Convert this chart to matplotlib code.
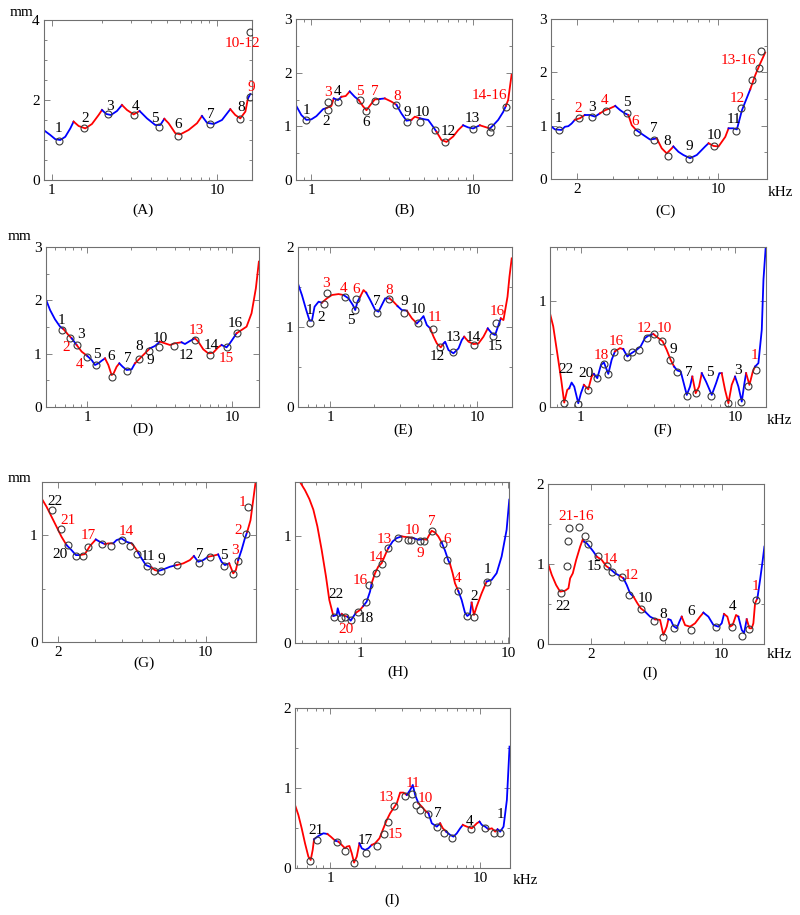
import matplotlib
matplotlib.use("Agg")
import matplotlib.pyplot as plt
from matplotlib.ticker import FixedLocator, MultipleLocator, LogLocator, NullFormatter

plt.rcParams["font.family"] = ["Liberation Serif", "DejaVu Serif"]

W, H = 800, 915
COL = {"r": "#ff0000", "b": "#0000ff", "k": "#000000"}

##### data (frequency in kHz, displacement in mm) #####

# --- (A) ---
A_segs = [
	("b", [0.903, 0.977, 1.048, 1.123, 1.204, 1.292, 1.353], [1.23, 1.125, 1.02, 1.0, 1.08, 1.29, 1.46]),
	("r", [1.353, 1.451, 1.592, 1.747, 1.918, 2.01], [1.46, 1.35, 1.29, 1.40, 1.625, 1.75]),
	("b", [2.01, 2.134, 2.278, 2.477, 2.656], [1.75, 1.65, 1.625, 1.725, 1.875]),
	("r", [2.656, 2.849, 3.126, 3.398], [1.875, 1.75, 1.64, 1.725]),
	("b", [3.398, 3.767, 4.228, 4.534, 4.797], [1.725, 1.54, 1.375, 1.375, 1.53]),
	("r", [4.797, 5.09, 5.59, 5.99, 6.73, 7.57, 8.11], [1.53, 1.42, 1.17, 1.14, 1.25, 1.42, 1.6]),
	("b", [8.11, 8.70, 9.55, 10.72, 12.04], [1.6, 1.43, 1.40, 1.5, 1.77]),
	("r", [12.04, 12.91, 13.84, 14.86, 15.41], [1.77, 1.625, 1.54, 1.71, 2.04]),
	("b", [15.41, 15.92], [2.04, 2.15]),
]
A_mk_f = [1.10, 1.56, 2.2, 3.13, 4.43, 5.78, 9.03, 13.8, 15.9, 15.9]
A_mk_v = [0.98, 1.30, 1.64, 1.625, 1.325, 1.10, 1.40, 1.53, 2.08, 3.71]
A_labels = [("1", 1.10, 1.29, "k"), ("2", 1.59, 1.54, "k"), ("3", 2.26, 1.85, "k"), ("4", 3.2, 1.85, "k"),
	("5", 4.23, 1.54, "k"), ("6", 5.86, 1.40, "k"), ("7", 9.2, 1.625, "k"), ("8", 13.97, 1.82, "k"),
	("9", 16.07, 2.32, "r"), ("10-12", 14.2, 3.42, "r")]

# --- (B) ---
B_segs = [
	("b", [0.80, 0.867, 0.931, 1.0, 1.074, 1.181, 1.238], [1.40, 1.21, 1.12, 1.13, 1.19, 1.32, 1.34]),
	("r", [1.238, 1.329, 1.374], [1.34, 1.38, 1.52]),
	("b", [1.374, 1.462, 1.533], [1.52, 1.49, 1.55]),
	("r", [1.533, 1.63, 1.726], [1.55, 1.565, 1.65]),
	("b", [1.726, 1.854, 1.962], [1.65, 1.55, 1.49]),
	("r", [1.962, 2.089, 2.19, 2.317, 2.464, 2.648], [1.49, 1.37, 1.30, 1.40, 1.50, 1.51]),
	("b", [2.648, 2.842], [1.51, 1.52]),
	("r", [2.842, 3.126, 3.356], [1.52, 1.46, 1.40]),
	("b", [3.356, 3.6, 3.87, 4.15], [1.40, 1.24, 1.105, 1.12]),
	("r", [4.15, 4.36, 4.68], [1.12, 1.18, 1.15]),
	("b", [4.68, 5.02, 5.27, 5.66, 5.93], [1.15, 1.13, 1.12, 0.99, 0.90]),
	("r", [5.93, 6.37, 6.84, 7.52, 8.08, 8.67], [0.90, 0.745, 0.71, 0.81, 0.93, 1.02]),
	("b", [8.67, 9.31, 10.0, 10.99], [1.02, 0.98, 0.96, 1.02]),
	("r", [10.99, 11.8, 12.68], [1.02, 0.99, 0.96]),
	("b", [12.68, 13.3, 14.28, 15.34, 15.92], [0.96, 1.02, 1.12, 1.27, 1.38]),
	("r", [15.92, 16.45, 17.27], [1.38, 1.49, 1.96]),
]
B_mk_f = [0.931, 1.268, 1.268, 1.462, 1.99, 2.19, 2.464, 3.356, 3.92, 4.68, 5.79, 6.74, 10.0, 12.68, 12.9, 15.85]
B_mk_v = [1.12, 1.30, 1.46, 1.45, 1.49, 1.285, 1.47, 1.40, 1.075, 1.075, 0.93, 0.714, 0.95, 0.90, 0.98, 1.355]
B_labels = [("1", 0.931, 1.30, "k"), ("2", 1.238, 1.09, "k"), ("3", 1.268, 1.63, "r"), ("4", 1.448, 1.65, "k"),
	("5", 1.99, 1.65, "r"), ("6", 2.19, 1.07, "k"), ("7", 2.46, 1.65, "r"), ("8", 3.39, 1.55, "r"),
	("9", 3.92, 1.255, "k"), ("10", 4.86, 1.255, "k"), ("12", 7.0, 0.90, "k"), ("13", 9.86, 1.15, "k"),
	("14-16", 12.7, 1.58, "r")]

# --- (C) ---
C_segs = [
	("b", [1.479, 1.549, 1.671, 1.737, 1.804, 1.874, 1.946], [0.99, 0.93, 0.92, 0.98, 0.99, 1.04, 1.11]),
	("r", [1.946, 2.062, 2.18], [1.11, 1.14, 1.2]),
	("b", [2.18, 2.31, 2.45, 2.59], [1.2, 1.2, 1.17, 1.23]),
	("r", [2.59, 2.75, 2.91, 3.09], [1.23, 1.29, 1.325, 1.37]),
	("b", [3.09, 3.27, 3.45, 3.59], [1.37, 1.29, 1.23, 1.2]),
	("r", [3.59, 3.73, 3.92], [1.2, 1.01, 0.92]),
	("b", [3.92, 4.26, 4.60, 4.97], [0.92, 0.825, 0.74, 0.76]),
	("r", [4.97, 5.26, 5.57, 5.90, 6.01], [0.76, 0.575, 0.48, 0.575, 0.61]),
	("b", [6.01, 6.37, 6.74, 7.28, 7.86, 8.65, 8.99], [0.61, 0.51, 0.45, 0.39, 0.45, 0.61, 0.67]),
	("r", [8.99, 9.52, 10.08, 10.89, 11.31], [0.67, 0.62, 0.61, 0.79, 0.95]),
	("b", [11.31, 11.97, 12.44, 13.18, 14.49], [0.95, 0.95, 0.93, 1.29, 1.68]),
	("r", [14.49, 15.36, 16.13, 17.2], [1.68, 1.95, 2.14, 2.37]),
]
C_mk_f = [1.626, 2.04, 2.355, 2.77, 3.52, 3.95, 4.84, 5.68, 7.22, 9.52, 12.33, 13.06, 14.75, 15.97, 16.38]
C_mk_v = [0.92, 1.14, 1.17, 1.275, 1.23, 0.89, 0.73, 0.44, 0.375, 0.61, 0.906, 1.34, 1.86, 2.075, 2.40]
C_labels = [("1", 1.62, 1.14, "k"), ("2", 2.02, 1.325, "r"), ("3", 2.355, 1.34, "k"), ("4", 2.73, 1.48, "r"),
	("5", 3.52, 1.43, "k"), ("6", 3.87, 1.075, "r"), ("7", 4.79, 0.95, "k"), ("8", 5.61, 0.70, "k"),
	("9", 7.22, 0.61, "k"), ("10", 9.59, 0.81, "k"), ("11", 11.97, 1.11, "k"), ("12", 12.45, 1.51, "r"),
	("13-16", 12.67, 2.22, "r")]

# --- (D) ---
D_segs = [
	("b", [0.516, 0.553, 0.598, 0.648, 0.683], [2.03, 1.82, 1.645, 1.507, 1.463]),
	("r", [0.683, 0.740, 0.780], [1.463, 1.35, 1.287]),
	("b", [0.780, 0.844], [1.287, 1.161]),
	("r", [0.844, 0.914, 1.0], [1.161, 1.036, 0.954]),
	("b", [1.0, 1.071, 1.129, 1.191, 1.256, 1.324], [0.954, 0.879, 0.785, 0.816, 0.866, 0.910]),
	("r", [1.324, 1.396, 1.471, 1.511, 1.593, 1.662], [0.910, 0.785, 0.596, 0.615, 0.753, 0.816]),
	("b", [1.662, 1.752, 1.867, 2.022, 2.132], [0.816, 0.753, 0.691, 0.703, 0.816]),
	("r", [2.132, 2.307, 2.565, 2.704], [0.816, 0.910, 1.036, 1.099]),
	("b", [2.704, 2.93, 3.17], [1.099, 1.143, 1.224]),
	("r", [3.17, 3.43, 3.72, 4.02, 4.47], [1.224, 1.193, 1.161, 1.193, 1.212]),
	("b", [4.47, 4.72, 5.11, 5.53], [1.212, 1.18, 1.237, 1.287]),
	("r", [5.53, 5.83, 6.31, 6.83, 7.39, 8.0, 8.44], [1.287, 1.224, 1.08, 1.004, 1.016, 1.117, 1.161]),
	("b", [8.44, 9.14, 9.63, 10.16, 10.71], [1.161, 1.117, 1.193, 1.287, 1.381]),
	("r", [10.71, 11.6, 12.56, 13.59, 14.56, 15.27], [1.381, 1.444, 1.507, 1.758, 2.23, 2.73]),
]
D_mk_f = [0.673, 0.760, 0.844, 1.0, 1.14, 1.487, 1.886, 2.283, 2.66, 3.14, 3.96, 5.53, 7.02, 9.14, 10.71]
D_mk_v = [1.444, 1.30, 1.16, 0.94, 0.785, 0.565, 0.672, 0.89, 1.055, 1.13, 1.143, 1.255, 0.973, 1.117, 1.394]
D_labels = [("1", 0.665, 1.62, "k"), ("3", 0.904, 1.35, "k"), ("2", 0.72, 1.117, "r"), ("4", 0.89, 0.785, "r"),
	("5", 1.16, 0.99, "k"), ("6", 1.47, 0.954, "k"), ("7", 1.90, 0.91, "k"), ("8", 2.28, 1.13, "k"),
	("9", 2.70, 0.866, "k"), ("10", 3.2, 1.287, "k"), ("12", 4.84, 0.973, "k"), ("13", 5.61, 1.43, "r"),
	("14", 7.2, 1.161, "k"), ("15", 9.14, 0.91, "r"), ("16", 10.43, 1.557, "k")]

# --- (E) ---
E_segs = [
	("b", [0.602, 0.641, 0.686, 0.723, 0.750, 0.782, 0.833, 0.877], [1.54, 1.396, 1.208, 1.075, 1.075, 1.25, 1.3125, 1.30]),
	("r", [0.877, 0.949, 1.026, 1.140, 1.233], [1.30, 1.354, 1.396, 1.408, 1.396]),
	("b", [1.233, 1.334, 1.427, 1.481, 1.535, 1.601], [1.396, 1.354, 1.271, 1.208, 1.3125, 1.375]),
	("r", [1.601, 1.687, 1.760], [1.375, 1.458, 1.425]),
	("b", [1.760, 1.874, 2.027, 2.136, 2.25, 2.371, 2.538], [1.425, 1.333, 1.208, 1.1875, 1.271, 1.354, 1.354]),
	("r", [2.538, 2.70, 2.878], [1.354, 1.3125, 1.258]),
	("b", [2.878, 3.08, 3.33], [1.258, 1.208, 1.20]),
	("r", [3.33, 3.61, 3.90], [1.20, 1.104, 1.042]),
	("b", [3.90, 4.11, 4.33, 4.56, 4.81], [1.042, 1.083, 1.133, 1.021, 0.979]),
	("r", [4.81, 5.07, 5.34, 5.68, 5.93], [0.979, 0.875, 0.79, 0.742, 0.79]),
	("b", [5.93, 6.08, 6.41, 6.93, 7.50, 7.90, 8.20], [0.79, 0.8125, 0.708, 0.667, 0.729, 0.833, 0.875]),
	("r", [8.20, 8.78, 9.49, 10.26, 11.1, 11.88], [0.875, 0.8125, 0.783, 0.79, 0.875, 0.979]),
	("b", [11.88, 12.65, 13.33, 14.06, 14.58], [0.979, 0.917, 0.896, 1.021, 1.104]),
	("r", [14.58, 15.2, 16.2, 16.7, 17.3], [1.104, 1.083, 1.375, 1.625, 1.854]),
]
E_mk_f = [0.731, 0.90, 0.949, 1.252, 1.481, 1.496, 2.10, 2.50, 3.196, 3.94, 4.99, 5.62, 6.83, 9.59, 12.99, 13.55]
E_mk_v = [1.05, 1.29, 1.417, 1.375, 1.208, 1.346, 1.175, 1.346, 1.175, 1.042, 0.971, 0.75, 0.679, 0.771, 0.883, 1.05]
E_labels = [("1", 0.723, 1.208, "k"), ("2", 0.864, 1.117, "k"), ("3", 0.934, 1.54, "r"), ("4", 1.233, 1.479, "r"),
	("6", 1.496, 1.467, "r"), ("5", 1.383, 1.075, "k"), ("7", 2.08, 1.3125, "k"), ("8", 2.538, 1.45, "r"),
	("9", 3.196, 1.3125, "k"), ("10", 4.0, 1.217, "k"), ("11", 5.2, 1.117, "r"), ("12", 5.39, 0.633, "k"),
	("13", 6.93, 0.867, "k"), ("14", 9.49, 0.867, "k"), ("15", 13.33, 0.75, "k"), ("16", 13.7, 1.1875, "r")]

# --- (F) ---
F_segs = [
	("r", [0.629, 0.661, 0.702, 0.745, 0.779, 0.815, 0.840], [0.884, 0.759, 0.508, 0.257, 0.044, 0.163, 0.179]),
	("b", [0.840, 0.870, 0.905, 0.961, 1.0, 1.046], [0.179, 0.232, 0.194, 0.038, 0.132, 0.21]),
	("r", [1.046, 1.116, 1.173, 1.214], [0.21, 0.169, 0.288, 0.313]),
	("b", [1.214, 1.277, 1.349, 1.411, 1.505, 1.582, 1.663], [0.313, 0.273, 0.398, 0.42, 0.313, 0.445, 0.524]),
	("r", [1.663, 1.792, 1.883], [0.524, 0.555, 0.545]),
	("b", [1.883, 2.0, 2.133, 2.299, 2.44, 2.604, 2.736, 2.95], [0.545, 0.476, 0.508, 0.539, 0.571, 0.649, 0.671, 0.687]),
	("r", [2.95, 3.18, 3.39, 3.60, 3.82, 4.02], [0.687, 0.649, 0.618, 0.539, 0.445, 0.382]),
	("b", [4.02, 4.22, 4.44, 4.86, 5.10, 5.28], [0.382, 0.345, 0.335, 0.116, 0.194, 0.288]),
	("r", [5.28, 5.55, 5.84, 6.08], [0.288, 0.132, 0.194, 0.32]),
	("b", [6.08, 6.48, 7.06, 7.53, 7.91, 8.19], [0.32, 0.241, 0.116, 0.226, 0.32, 0.32]),
	("r", [8.19, 8.61, 9.05, 9.51, 10.0], [0.32, 0.163, 0.038, 0.21, 0.288]),
	("b", [10.0, 10.51, 11.05, 11.5, 11.79], [0.288, 0.194, 0.053, 0.226, 0.32]),
	("r", [11.79, 12.39, 13.02, 13.49], [0.32, 0.21, 0.333, 0.382]),
	("b", [13.49, 14.17, 14.9, 15.28, 15.82], [0.382, 0.414, 0.727, 1.197, 1.511]),
]
F_mk_f = [0.779, 0.961, 1.116, 1.264, 1.411, 1.49, 1.638, 1.98, 2.154, 2.38, 2.67, 2.995, 3.34, 3.78, 4.22,
	4.86, 5.55, 6.99, 9.05, 10.9, 12.21, 13.62]
F_mk_v = [0.038, 0.031, 0.163, 0.273, 0.408, 0.31, 0.517, 0.476, 0.514, 0.533, 0.649, 0.687, 0.618, 0.445, 0.335,
	0.11, 0.138, 0.11, 0.038, 0.053, 0.2, 0.351]
F_labels = [("22", 0.799, 0.357, "k"), ("20", 1.078, 0.313, "k"), ("18", 1.362, 0.483, "r"), ("16", 1.688, 0.618, "r"),
	("12", 2.566, 0.74, "r"), ("10", 3.46, 0.74, "r"), ("9", 3.98, 0.545, "k"), ("7", 4.98, 0.326, "k"),
	("5", 6.88, 0.326, "k"), ("3", 10.51, 0.345, "k"), ("1", 13.28, 0.483, "r")]

# --- (G) ---
G_segs = [
	("r", [1.679, 1.761, 1.86, 1.964, 2.074, 2.191], [1.339, 1.270, 1.176, 1.082, 0.987, 0.909]),
	("b", [2.191, 2.313, 2.426, 2.534], [0.909, 0.862, 0.815, 0.815]),
	("r", [2.534, 2.676, 2.827, 3.017], [0.815, 0.824, 0.90, 0.962]),
	("b", [3.017, 3.153, 3.33], [0.962, 0.940, 0.918]),
	("r", [3.33, 3.453, 3.647], [0.918, 0.925, 0.925]),
	("b", [3.647, 3.783, 3.995, 4.22, 4.457], [0.925, 0.956, 0.972, 0.940, 0.925]),
	("r", [4.457, 4.623, 4.795], [0.925, 0.887, 0.837]),
	("b", [4.795, 4.973, 5.212, 5.545], [0.837, 0.784, 0.721, 0.699]),
	("r", [5.545, 5.751, 5.964], [0.699, 0.674, 0.665]),
	("b", [5.964, 6.30, 6.77, 7.29], [0.665, 0.680, 0.705, 0.721]),
	("r", [7.29, 7.84, 8.43, 8.81], [0.721, 0.737, 0.768, 0.806]),
	("b", [8.81, 9.23, 9.75, 10.30], [0.806, 0.752, 0.768, 0.80]),
	("r", [10.30, 10.88, 11.48], [0.80, 0.809, 0.821]),
	("b", [11.48, 11.91, 12.36, 12.95], [0.821, 0.752, 0.721, 0.737]),
	("r", [12.95, 13.53, 13.93, 14.29], [0.737, 0.643, 0.674, 0.768]),
	("b", [14.29, 14.82, 15.37, 15.77], [0.768, 0.862, 0.972, 1.034]),
	("r", [15.77, 16.35, 16.83, 17.27], [1.034, 1.144, 1.332, 1.498]),
]
G_mk_f = [1.873, 2.06, 2.23, 2.426, 2.61, 2.776, 3.21, 3.58, 3.995, 4.37, 4.71, 5.25, 5.69, 6.14, 7.34,
	9.31, 10.49, 12.22, 13.53, 14.29, 15.54, 15.94]
G_mk_v = [1.238, 1.06, 0.909, 0.806, 0.809, 0.887, 0.918, 0.903, 0.956, 0.90, 0.824, 0.712, 0.668, 0.665, 0.721,
	0.743, 0.793, 0.712, 0.636, 0.762, 1.013, 1.263]
G_labels = [("22", 1.929, 1.317, "k"), ("21", 2.23, 1.144, "r"), ("20", 2.037, 0.824, "k"), ("17", 2.776, 1.003, "r"),
	("14", 4.22, 1.034, "r"), ("11", 5.31, 0.80, "k"), ("9", 6.18, 0.774, "k"), ("7", 9.40, 0.824, "k"),
	("5", 12.22, 0.815, "k"), ("3", 13.78, 0.862, "r"), ("2", 14.29, 1.05, "r"), ("1", 14.98, 1.307, "r")]

# --- (H) ---
H_segs = [
	("r", [0.388, 0.42, 0.449, 0.478, 0.509, 0.544, 0.582, 0.613, 0.653], [1.503, 1.425, 1.344, 1.244, 1.0875, 0.869, 0.619, 0.40, 0.25]),
	("b", [0.653, 0.688, 0.699, 0.724, 0.744], [0.25, 0.259, 0.322, 0.25, 0.269]),
	("r", [0.744, 0.783, 0.812], [0.269, 0.25, 0.244]),
	("b", [0.812, 0.856, 0.892, 0.93], [0.244, 0.206, 0.244, 0.281]),
	("r", [0.93, 0.99, 1.043], [0.281, 0.306, 0.344]),
	("b", [1.043, 1.098, 1.157, 1.187], [0.344, 0.384, 0.478, 0.556]),
	("r", [1.187, 1.251, 1.317, 1.388, 1.484, 1.539], [0.556, 0.65, 0.7125, 0.744, 0.8375, 0.884]),
	("b", [1.539, 1.647, 1.753, 1.895], [0.884, 0.947, 0.978, 0.994]),
	("r", [1.895, 2.049, 2.274], [0.994, 0.9875, 0.978]),
	("b", [2.274, 2.458, 2.657], [0.978, 0.9625, 0.969]),
	("r", [2.657, 2.799, 2.917, 3.025, 3.188, 3.357, 3.537], [0.969, 0.9625, 1.009, 1.047, 1.031, 0.994, 0.9375]),
	("b", [3.537, 3.725, 3.925, 4.027], [0.9375, 0.8625, 0.769, 0.7375]),
	("r", [4.027, 4.198, 4.354, 4.586], [0.7375, 0.65, 0.556, 0.484]),
	("b", [4.586, 4.83, 5.088, 5.277, 5.502, 5.646], [0.484, 0.4, 0.281, 0.25, 0.269, 0.375]),
	("r", [5.646, 5.855, 6.104, 6.6, 7.135], [0.375, 0.259, 0.338, 0.4625, 0.572]),
	("b", [7.135, 7.712, 8.337, 9.014, 9.743, 10.16], [0.572, 0.5875, 0.65, 0.806, 1.056, 1.3375]),
]
H_mk_f = [0.659, 0.736, 0.783, 0.856, 0.954, 1.087, 1.145, 1.27, 1.388, 1.523, 1.8, 2.103, 2.181, 2.522, 2.699,
	3.025, 3.592, 3.863, 4.54, 5.223, 5.855, 7.21]
H_mk_v = [0.244, 0.228, 0.244, 0.2125, 0.284, 0.384, 0.541, 0.65, 0.7375, 0.884, 0.978, 0.9625, 0.956, 0.947, 0.947,
	1.041, 0.925, 0.769, 0.484, 0.25, 0.2375, 0.572]
H_labels = [("22", 0.681, 0.447, "k"), ("20", 0.796, 0.125, "r"), ("18", 1.098, 0.228, "k"), ("16", 1.0, 0.581, "r"),
	("14", 1.27, 0.80, "r"), ("13", 1.439, 0.9625, "r"), ("10", 2.25, 1.05, "r"), ("9", 2.549, 0.831, "r"),
	("7", 3.025, 1.134, "r"), ("6", 3.863, 0.969, "r"), ("4", 4.515, 0.603, "r"), ("2", 5.886, 0.431, "k"),
	("1", 7.21, 0.681, "k")]

# --- (I), right column ---
I1_segs = [
	("r", [1.183, 1.232, 1.299, 1.365, 1.452, 1.512, 1.544, 1.596, 1.663, 1.747, 1.805, 1.835],
		[0.99, 0.865, 0.74, 0.657, 0.669, 0.699, 0.823, 0.886, 1.052, 1.218, 1.31, 1.281]),
	("b", [1.835, 1.896, 1.975, 2.058, 2.145], [1.281, 1.26, 1.21, 1.156, 1.094]),
	("r", [2.145, 2.281, 2.406, 2.507], [1.094, 1.052, 0.977, 0.948]),
	("b", [2.507, 2.689, 2.858], [0.948, 0.886, 0.852]),
	("r", [2.858, 2.979], [0.852, 0.823]),
	("b", [2.979, 3.103, 3.233, 3.37], [0.823, 0.74, 0.636, 0.595]),
	("r", [3.37, 3.539, 3.688, 3.89], [0.595, 0.511, 0.449, 0.407]),
	("b", [3.89, 4.137, 4.399], [0.407, 0.345, 0.312]),
	("r", [4.399, 4.679, 4.875, 5.079, 5.185], [0.312, 0.304, 0.116, 0.22, 0.312]),
	("b", [5.185, 5.336, 5.515, 5.745, 5.937, 6.11], [0.312, 0.304, 0.229, 0.20, 0.283, 0.345]),
	("r", [6.11, 6.367, 6.77, 7.2, 7.656, 7.98], [0.345, 0.239, 0.22, 0.262, 0.345, 0.395]),
	("b", [7.98, 8.487, 9.028, 9.6, 10.0, 10.29], [0.395, 0.345, 0.241, 0.22, 0.262, 0.378]),
	("r", [10.29, 10.72, 11.08, 11.45, 11.93, 12.28], [0.378, 0.345, 0.22, 0.241, 0.366, 0.345]),
	("b", [12.28, 12.8, 13.17, 13.61], [0.345, 0.179, 0.137, 0.312]),
	("r", [13.61, 14.07, 14.47, 14.77, 15.08, 15.52], [0.312, 0.20, 0.20, 0.262, 0.511, 0.574]),
	("b", [15.52, 16.04, 16.58, 16.92], [0.574, 0.802, 1.052, 1.218]),
]
I1_mk_f = [1.376, 1.494, 1.512, 1.531, 1.732, 1.857, 1.936, 2.171, 2.426, 2.58, 2.919, 3.194, 3.688, 4.345, 4.875,
	5.559, 6.855, 9.326, 11.31, 12.8, 14.0, 15.2]
I1_mk_v = [0.645, 0.977, 1.293, 1.455, 1.468, 1.351, 1.252, 1.102, 0.977, 0.906, 0.844, 0.615, 0.441, 0.295, 0.096,
	0.20, 0.179, 0.22, 0.212, 0.108, 0.187, 0.553]
I1_labels = [("21-16", 1.663, 1.593, "r"), ("22", 1.411, 0.47, "k"), ("15", 2.075, 0.969, "k"), ("14", 2.548, 1.064, "r"),
	("12", 3.30, 0.857, "r"), ("10", 3.89, 0.574, "k"), ("8", 4.834, 0.366, "k"), ("6", 6.83, 0.407, "k"),
	("4", 11.4, 0.47, "k"), ("1", 15.08, 0.72, "r")]

# --- (I), bottom ---
I2_segs = [
	("r", [0.584, 0.615, 0.647, 0.681, 0.717, 0.743, 0.766, 0.782], [0.792, 0.667, 0.5, 0.3125, 0.146, 0.104, 0.229, 0.3625]),
	("b", [0.782, 0.836, 0.903, 0.96], [0.3625, 0.404, 0.4375, 0.429]),
	("r", [0.96, 1.01, 1.08], [0.429, 0.396, 0.346]),
	("b", [1.08, 1.137], [0.346, 0.333]),
	("r", [1.137, 1.196, 1.259, 1.292, 1.346, 1.395, 1.445, 1.506, 1.569], [0.333, 0.292, 0.25, 0.271, 0.279, 0.1875, 0.071, 0.146, 0.3125]),
	("b", [1.569, 1.626, 1.711, 1.801, 1.896], [0.3125, 0.25, 0.229, 0.25, 0.292]),
	("r", [1.896, 1.995, 2.133, 2.244, 2.387, 2.512, 2.643, 2.783, 2.929, 3.083, 3.245],
		[0.292, 0.3125, 0.375, 0.479, 0.604, 0.6875, 0.75, 0.8125, 0.946, 0.946, 0.917]),
	("b", [3.245, 3.415, 3.557, 3.687, 3.88], [0.917, 0.979, 1.042, 0.917, 0.8125]),
	("r", [3.88, 4.084, 4.299, 4.524], [0.8125, 0.771, 0.721, 0.6875]),
	("b", [4.524, 4.762, 5.142, 5.412], [0.6875, 0.5625, 0.521, 0.5625]),
	("r", [5.412, 5.639, 5.935], [0.5625, 0.5, 0.458]),
	("b", [5.935, 6.31, 6.64, 6.99, 7.356, 7.663], [0.458, 0.417, 0.396, 0.4375, 0.5, 0.542]),
	("r", [7.663, 8.149, 8.799, 9.502, 9.9], [0.542, 0.521, 0.5, 0.5625, 0.583]),
	("b", [9.9, 10.26, 10.8, 11.36], [0.583, 0.542, 0.521, 0.4875]),
	("r", [11.36, 11.96, 12.59, 13.05], [0.4875, 0.5, 0.458, 0.4875]),
	("b", [13.05, 13.6, 14.31, 15.06, 15.69], [0.4875, 0.458, 0.521, 0.854, 1.521]),
]
I2_mk_f = [0.736, 0.823, 1.108, 1.259, 1.445, 1.738, 2.068, 2.291, 2.448, 2.672, 3.162, 3.539, 3.744, 3.981, 4.524,
	5.196, 5.754, 6.54, 8.665, 10.8, 12.27, 13.46]
I2_mk_v = [0.092, 0.354, 0.333, 0.221, 0.071, 0.1875, 0.279, 0.429, 0.583, 0.779, 0.904, 0.929, 0.792, 0.729, 0.675,
	0.521, 0.4375, 0.383, 0.4875, 0.508, 0.4375, 0.4375]
I2_labels = [("21", 0.807, 0.471, "k"), ("17", 1.711, 0.342, "k"), ("13", 2.362, 0.8875, "r"), ("15", 2.713, 0.417, "r"),
	("11", 3.594, 1.0625, "r"), ("10", 4.299, 0.875, "r"), ("7", 5.196, 0.6875, "k"), ("4", 8.447, 0.583, "k"),
	("1", 13.73, 0.667, "k")]

##### layout (pixel boxes left, top, right, bottom) #####

PANELS = [
	dict(box=(44, 20, 252, 180), xlim=(0.895, 16.3), ylim=(0, 4), xt=[1, 10], yt=[0, 2, 4], cap="(A)", cap_xy=(143, 210),
		segs=A_segs, mf=A_mk_f, mv=A_mk_v, labels=A_labels, mm=(22, 12), khz=None),
	dict(box=(295.7, 19, 511.7, 180), xlim=(0.80, 17.3), ylim=(0, 3), xt=[1, 10], yt=[0, 1, 2, 3], cap="(B)", cap_xy=(405, 210),
		segs=B_segs, mf=B_mk_f, mv=B_mk_v, labels=B_labels, mm=None, khz=None),
	dict(box=(551, 19, 766.7, 179), xlim=(1.48, 17.5), ylim=(0, 3), xt=[2, 10], yt=[0, 1, 2, 3], cap="(C)", cap_xy=(666, 211),
		segs=C_segs, mf=C_mk_f, mv=C_mk_v, labels=C_labels, mm=None, khz=(780, 192)),
	dict(box=(45.7, 247.3, 259, 406.7), xlim=(0.516, 15.3), ylim=(0, 3), xt=[1, 10], yt=[0, 1, 2, 3], cap="(D)", cap_xy=(143, 429),
		segs=D_segs, mf=D_mk_f, mv=D_mk_v, labels=D_labels, mm=(20, 237), khz=None),
	dict(box=(297.7, 246.7, 511.7, 406.7), xlim=(0.60, 17.3), ylim=(0, 2), xt=[1, 10], yt=[0, 1, 2], cap="(E)", cap_xy=(403, 430),
		segs=E_segs, mf=E_mk_f, mv=E_mk_v, labels=E_labels, mm=None, khz=None),
	dict(box=(550, 247.3, 765.7, 407.3), xlim=(0.63, 15.8), ylim=(0, 1.5), xt=[1, 10], yt=[0, 1], cap="(F)", cap_xy=(663, 430),
		segs=F_segs, mf=F_mk_f, mv=F_mk_v, labels=F_labels, mm=None, khz=(779, 421)),
	dict(box=(41.7, 482.3, 255.7, 641.7), xlim=(1.67, 17.3), ylim=(0, 1.5), xt=[2, 10], yt=[0, 1], cap="(G)", cap_xy=(144, 663),
		segs=G_segs, mf=G_mk_f, mv=G_mk_v, labels=G_labels, mm=(20, 479), khz=None),
	dict(box=(295, 482.3, 509.3, 642.7), xlim=(0.359, 10.16), ylim=(0, 1.5), xt=[1, 10], yt=[0, 1], cap="(H)", cap_xy=(398, 672),
		segs=H_segs, mf=H_mk_f, mv=H_mk_v, labels=H_labels, mm=None, khz=None),
	dict(box=(548.3, 484, 764.3, 644.3), xlim=(1.18, 16.9), ylim=(0, 2), xt=[2, 10], yt=[0, 1, 2], cap="(I)", cap_xy=(650, 673),
		segs=I1_segs, mf=I1_mk_f, mv=I1_mk_v, labels=I1_labels, mm=None, khz=(779, 654)),
	dict(box=(295, 708.3, 510, 868.3), xlim=(0.584, 15.8), ylim=(0, 2), xt=[1, 10], yt=[0, 1, 2], cap="(I)", cap_xy=(392, 900),
		segs=I2_segs, mf=I2_mk_f, mv=I2_mk_v, labels=I2_labels, mm=None, khz=(525, 880)),
]

FS = 11
GREY = "#707070"

def _fx(x):
	return x / W

def _fy(y):
	return 1 - y / H

def draw_panel(fig, p):
	l, t, r, b = p["box"]
	ax = fig.add_axes([_fx(l), _fy(b), (r - l) / W, (b - t) / H])
	ax.set_xscale("log")

	# curve, coloured piece by piece
	for c, f, v in p["segs"]:
		ax.plot(f, v, color=COL[c], lw=1.3, solid_joinstyle="round", zorder=2)

	# measured points
	ax.plot(p["mf"], p["mv"], "o", ms=5, mfc="none", mec="#3a3a3a", mew=0.8, zorder=3)

	for txt, f, v, c in p["labels"]:
		ax.text(f, v, txt, color=COL[c], fontsize=FS, ha="center", va="center", zorder=4)

	ax.set_xlim(*p["xlim"])
	ax.set_ylim(*p["ylim"])
	ax.set_xticks(p["xt"])
	ax.set_xticklabels([str(x) for x in p["xt"]])
	ax.xaxis.set_minor_locator(LogLocator(base=10, subs=range(2, 10)))
	ax.xaxis.set_minor_formatter(NullFormatter())
	ax.set_yticks(p["yt"])
	ax.set_yticklabels([str(y) for y in p["yt"]])
	ax.yaxis.set_minor_locator(MultipleLocator(0.5))

	ax.tick_params(which="both", direction="in", top=True, right=True, color=GREY, width=0.6,
		labelsize=FS, pad=3)
	ax.tick_params(which="major", length=4)
	ax.tick_params(which="minor", length=2.5)
	for s in ax.spines.values():
		s.set_color(GREY)
		s.set_linewidth(0.8)

	fig.text(_fx(p["cap_xy"][0]), _fy(p["cap_xy"][1]), p["cap"], fontsize=FS, ha="center", va="center")
	if p["mm"]:
		fig.text(_fx(p["mm"][0]), _fy(p["mm"][1]), "mm", fontsize=FS, ha="center", va="center")
	if p["khz"]:
		fig.text(_fx(p["khz"][0]), _fy(p["khz"][1]), "kHz", fontsize=FS, ha="center", va="center")
	return ax

fig = plt.figure(figsize=(W / 100, H / 100), dpi=100)
for p in PANELS:
	draw_panel(fig, p)

fig.savefig("out.png", dpi=100, facecolor="white")
